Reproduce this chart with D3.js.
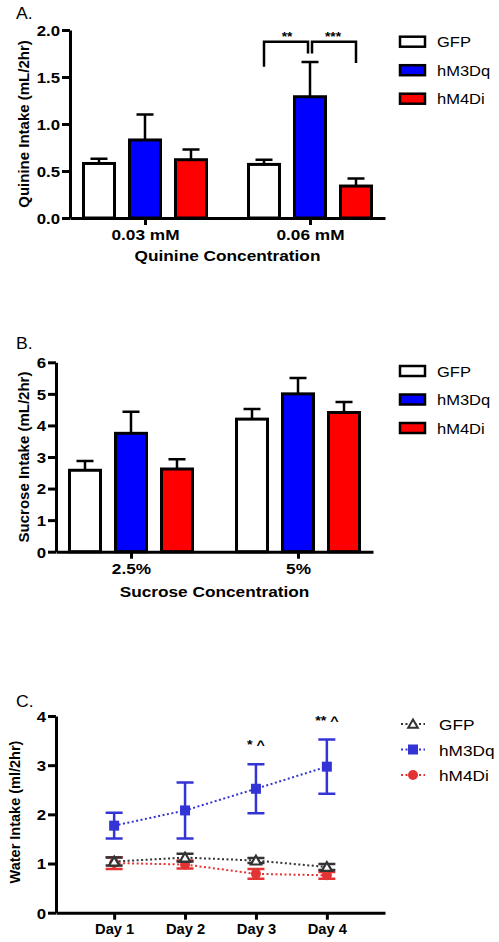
<!DOCTYPE html>
<html><head><meta charset="utf-8">
<script src="https://cdn.jsdelivr.net/npm/d3@7"></script>
<style>body{margin:0;background:#fff}svg{display:block}</style>
</head><body><svg id="c" width="499" height="942"></svg>
<script>
// ---------- DATA ----------
const series = ["GFP", "hM3Dq", "hM4Di"];
const barColors = ["#ffffff", "#0000ff", "#ff0000"];

const quinineGroups = ["0.03 mM", "0.06 mM"];
const quinineGFP = [0.58, 0.57], quinineGFPErr = [0.05, 0.05];
const quinineM3 = [0.83, 1.29], quinineM3Err = [0.27, 0.37];
const quinineM4 = [0.62, 0.34], quinineM4Err = [0.11, 0.08];
const quinineTicks = [0, 0.5, 1.0, 1.5, 2.0];

const sucroseGroups = ["2.5%", "5%"];
const sucroseGFP = [2.58, 4.20], sucroseGFPErr = [0.29, 0.32];
const sucroseM3 = [3.75, 5.00], sucroseM3Err = [0.68, 0.50];
const sucroseM4 = [2.62, 4.41], sucroseM4Err = [0.31, 0.33];
const sucroseTicks = [0, 1, 2, 3, 4, 5, 6];

const days = ["Day 1", "Day 2", "Day 3", "Day 4"];
const waterGFP = [1.04, 1.12, 1.06, 0.93], waterGFPErr = [0.08, 0.08, 0.05, 0.06];
const waterM3 = [1.77, 2.08, 2.52, 2.97], waterM3Err = [0.26, 0.57, 0.50, 0.55];
const waterM4 = [1.01, 0.98, 0.79, 0.76], waterM4Err = [0.12, 0.08, 0.10, 0.07];
const waterTicks = [0, 1, 2, 3, 4];
const waterColors = ["#333333", "#3434d6", "#e23434"];
const waterAnnot = [{day: "Day 3", text: "* ^", v: 3.33}, {day: "Day 4", text: "** ^", v: 3.82}];

// ---------- HELPERS ----------
const FONT = "'Liberation Sans', Arial, Helvetica, sans-serif";
const svg = d3.select("#c");

function txt(g, x, y, s, o) {
  return g.append("text")
    .attr("transform", `translate(${x},${y}) scale(${o.sx || 1},1)` + (o.rot ? ` rotate(${o.rot})` : ""))
    .attr("text-anchor", o.anchor || "start")
    .attr("font-size", o.size)
    .attr("font-weight", o.weight || "normal")
    .attr("font-family", FONT)
    .attr("fill", o.fill || "#000")
    .text(s);
}

function yAxis(g, y, x0, ticks, fmt, size, sx) {
  const a = g.append("g").attr("transform", `translate(${x0},0)`)
    .call(d3.axisLeft(y).tickValues(ticks).tickFormat(fmt).tickSize(8).tickSizeOuter(0));
  a.select(".domain").attr("stroke", "#000").attr("stroke-width", 3);
  a.selectAll(".tick line").attr("stroke", "#000").attr("stroke-width", 3);
  a.selectAll(".tick text").attr("x", null).attr("dy", "0.36em")
    .attr("transform", `translate(-10,0) scale(${sx},1)`)
    .attr("font-family", FONT).attr("font-size", size).attr("font-weight", "bold").attr("fill", "#000");
}

function xAxis(g, x, y0, size, sx, dy) {
  const a = g.append("g").attr("transform", `translate(0,${y0})`)
    .call(d3.axisBottom(x).tickSize(7).tickSizeOuter(0));
  a.select(".domain").attr("stroke", "#000").attr("stroke-width", 3);
  a.selectAll(".tick line").attr("stroke", "#000").attr("stroke-width", 3);
  a.selectAll(".tick text").attr("y", null).attr("dy", null)
    .attr("transform", `translate(0,${dy}) scale(${sx},1)`)
    .attr("font-family", FONT).attr("font-size", size).attr("font-weight", "bold").attr("fill", "#000");
}

function barPanel(opt) {
  const g = svg.append("g");
  const x = d3.scalePoint().domain(opt.groups).range(opt.xr).padding(opt.pad);
  const inner = d3.scaleBand().domain(series).range([-61.5, 61.5]).paddingInner(0.326);
  const y = d3.scaleLinear().domain(opt.yd).range(opt.yr);
  const rows = [];
  opt.groups.forEach((grp, i) => {
    series.forEach((s, j) => rows.push({grp, s, j, v: opt.means[j][i], e: opt.errs[j][i]}));
  });
  const cx = d => x(d.grp) + inner(d.s) + inner.bandwidth() / 2;
  // error bars (upward only)
  g.selectAll(".eb").data(rows).enter().append("path")
    .attr("d", d => `M${cx(d)},${y(d.v)}V${y(d.v + d.e)}M${cx(d) - 8.5},${y(d.v + d.e)}H${cx(d) + 8.5}`)
    .attr("stroke", "#000").attr("stroke-width", 2.5).attr("fill", "none");
  g.selectAll(".bar").data(rows).enter().append("rect")
    .attr("x", d => x(d.grp) + inner(d.s)).attr("width", inner.bandwidth())
    .attr("y", d => y(d.v)).attr("height", d => y(0) - y(d.v))
    .attr("fill", d => barColors[d.j]).attr("stroke", "#000").attr("stroke-width", 3);
  yAxis(g, y, opt.xr[0], opt.ticks, opt.fmt, 15, 1.12);
  xAxis(g, x, opt.yr[0], 15, 1.15, 22);
  // titles
  txt(g, (opt.xr[0] + opt.xr[1]) / 2, opt.xTitleY, opt.xTitle, {size: 15, weight: "bold", anchor: "middle", sx: 1.15});
  txt(g, opt.yTitleX, (opt.yr[0] + opt.yr[1]) / 2, opt.yTitle, {size: 15, weight: "bold", anchor: "middle", rot: -90});
  txt(g, 16, opt.labelY, opt.label, {size: 16, sx: 1.1});
  // legend
  const lg = g.append("g").selectAll("g").data(series).enter().append("g")
    .attr("transform", (d, i) => `translate(400,${opt.legY + i * 28.5})`);
  lg.append("rect").attr("x", 0).attr("y", -5).attr("width", 25).attr("height", 10)
    .attr("fill", (d, i) => barColors[i]).attr("stroke", "#000").attr("stroke-width", 2.5);
  lg.each(function (d) { txt(d3.select(this), 37, 5.5, d, {size: 14, sx: 1.18}); });
  return {g, x, y, inner, rows, cx};
}

// ---------- PANEL A ----------
const A = barPanel({
  groups: quinineGroups, xr: [70, 385], pad: 0.4545, yd: [0, 2], yr: [218, 30],
  means: [quinineGFP, quinineM3, quinineM4], errs: [quinineGFPErr, quinineM3Err, quinineM4Err],
  ticks: quinineTicks, fmt: d3.format(".1f"),
  xTitle: "Quinine Concentration", xTitleY: 261, yTitle: "Quinine Intake (mL/2hr)", yTitleX: 29,
  label: "A.", labelY: 19, legY: 41.7
});
// significance bracket on 0.06 mM
{
  const grp = quinineGroups[1];
  const xs = series.map(s => A.x(grp) + A.inner(s) + A.inner.bandwidth() / 2);
  const yT = A.y(1.875);
  A.g.append("path")
    .attr("d", `M${xs[0]},${A.y(1.61)}V${yT}H${xs[1] - 2}V${A.y(1.75)}M${xs[1] + 2},${A.y(1.75)}V${yT}H${xs[2]}V${A.y(1.65)}`)
    .attr("fill", "none").attr("stroke", "#000").attr("stroke-width", 2.5);
  txt(A.g, (xs[0] + xs[1]) / 2, yT - 1, "**", {size: 12, weight: "bold", anchor: "middle", sx: 1.15});
  txt(A.g, (xs[1] + xs[2]) / 2, yT - 1, "***", {size: 12, weight: "bold", anchor: "middle", sx: 1.15});
}

// ---------- PANEL B ----------
barPanel({
  groups: sucroseGroups, xr: [56, 373], pad: 0.449, yd: [0, 6], yr: [551.7, 362.3],
  means: [sucroseGFP, sucroseM3, sucroseM4], errs: [sucroseGFPErr, sucroseM3Err, sucroseM4Err],
  ticks: sucroseTicks, fmt: d3.format("d"),
  xTitle: "Sucrose Concentration", xTitleY: 597, yTitle: "Sucrose Intake (mL/2hr)", yTitleX: 29,
  label: "B.", labelY: 349, legY: 371
});

// ---------- PANEL C ----------
{
  const g = svg.append("g");
  const x = d3.scalePoint().domain(days).range([56, 385]).padding(0.82);
  const y = d3.scaleLinear().domain([0, 4]).range([912.7, 716]);
  const means = [waterGFP, waterM3, waterM4], errs = [waterGFPErr, waterM3Err, waterM4Err];
  const order = [2, 0, 1];
  const line = d3.line().x((d, i) => x(days[i])).y(d => y(d));
  order.forEach(j => {
    const col = waterColors[j];
    g.append("path").datum(means[j]).attr("d", line)
      .attr("fill", "none").attr("stroke", col).attr("stroke-width", 2).attr("stroke-dasharray", "2,2.5");
    g.selectAll(null).data(means[j]).enter().append("path")
      .attr("d", (d, i) => {
        const cx = x(days[i]), t = y(d + errs[j][i]), b = y(d - errs[j][i]);
        return `M${cx},${t}V${b}M${cx - 8.5},${t}H${cx + 8.5}M${cx - 8.5},${b}H${cx + 8.5}`;
      })
      .attr("stroke", col).attr("stroke-width", 2.5).attr("fill", "none");
    const pts = g.selectAll(null).data(means[j]).enter();
    if (j === 0) {
      pts.append("path").attr("d", d3.symbol(d3.symbolTriangle, 45))
        .attr("transform", (d, i) => `translate(${x(days[i])},${y(d) + 1})`)
        .attr("fill", "#fff").attr("stroke", col).attr("stroke-width", 2.2);
    } else if (j === 1) {
      pts.append("rect").attr("x", (d, i) => x(days[i]) - 5).attr("y", d => y(d) - 5)
        .attr("width", 10).attr("height", 10).attr("fill", col);
    } else {
      pts.append("circle").attr("cx", (d, i) => x(days[i])).attr("cy", d => y(d)).attr("r", 5).attr("fill", col);
    }
  });
  waterAnnot.forEach(a => txt(g, x(a.day), y(a.v), a.text, {size: 13, weight: "bold", anchor: "middle", sx: 1.1}));
  yAxis(g, y, 56, waterTicks, d3.format("d"), 15, 1.12);
  xAxis(g, x, 912.7, 14, 1.05, 21);
  txt(g, 20, 812, "Water Intake (ml/2hr)", {size: 14.5, weight: "bold", anchor: "middle", rot: -90});
  txt(g, 16, 707, "C.", {size: 16, sx: 1.1});
  // legend
  const lg = g.append("g").selectAll("g").data(series).enter().append("g")
    .attr("transform", (d, i) => `translate(401,${724 + i * 25.5})`);
  lg.append("line").attr("x1", 0).attr("x2", 24).attr("y1", 0).attr("y2", 0)
    .attr("stroke", (d, i) => waterColors[i]).attr("stroke-width", 2).attr("stroke-dasharray", "2,2.5");
  lg.each(function (d, i) {
    const s = d3.select(this);
    if (i === 0) s.append("path").attr("d", d3.symbol(d3.symbolTriangle, 40)).attr("transform", "translate(12,1)")
      .attr("fill", "#fff").attr("stroke", waterColors[0]).attr("stroke-width", 2);
    else if (i === 1) s.append("rect").attr("x", 7).attr("y", -5).attr("width", 10).attr("height", 10).attr("fill", waterColors[1]);
    else s.append("circle").attr("cx", 12).attr("cy", 0).attr("r", 5).attr("fill", waterColors[2]);
    txt(s, 38, 6, d, {size: 15, sx: 1.15});
  });
}
</script></body></html>
